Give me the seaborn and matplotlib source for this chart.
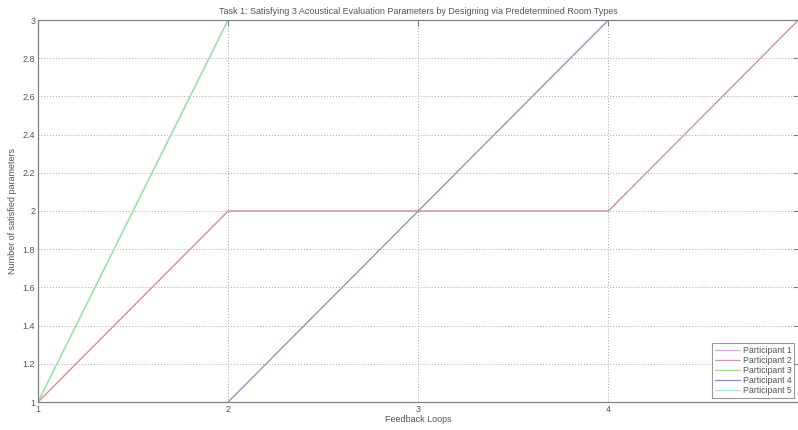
import numpy as np
import matplotlib
matplotlib.use("Agg")
import matplotlib.pyplot as plt
import seaborn as sns
import pandas as pd

loops = [1, 2, 3, 4, 5]
participants = ["Participant 1", "Participant 2", "Participant 3", "Participant 4", "Participant 5"]
p1 = [1, 2, 2, 2, 3]
p2 = [1, 2, 2, 2, 3]
p3 = [1, 3, np.nan, np.nan, np.nan]
p4 = [np.nan, 1, 2, 3, np.nan]
p5 = [1, 3, np.nan, np.nan, np.nan]
series = [p1, p2, p3, p4, p5]
colors = ["#dcaadc", "#d69a9a", "#96e096", "#8a8abc", "#9ae6e6"]
yticks = [1, 1.2, 1.4, 1.6, 1.8, 2, 2.2, 2.4, 2.6, 2.8, 3]
xticks = [1, 2, 3, 4]

sns.set_theme(style="white")
plt.rcParams['font.family'] = ['Liberation Sans', 'DejaVu Sans']
txt = "#555555"
edge = "#808080"

fig = plt.figure(figsize=(7.98, 4.30), dpi=100)
ax = fig.add_axes([38/798, 1 - 402/430, (798.5 - 38)/798, (402 - 20)/430])

# draw hidden duplicates first so visible order matches
draw_order = [0, 4, 1, 2, 3]
for i in draw_order:
    df = pd.DataFrame({"x": loops, "y": series[i]}).dropna()
    sns.lineplot(data=df, x="x", y="y", ax=ax, color=colors[i], linewidth=0.9,
                 label=participants[i], sort=False, estimator=None)
h, l = ax.get_legend_handles_labels()
hm = dict(zip(l, h))
leg = ax.legend([hm[p] for p in participants], participants, loc="lower right",
                fontsize=6.3, frameon=True, fancybox=False, borderaxespad=0.5,
                handlelength=2.9, handletextpad=0.3, labelspacing=0.12,
                borderpad=0.3, labelcolor=txt)
leg.get_frame().set_edgecolor(edge)
leg.get_frame().set_linewidth(0.8)

ax.set_xlim(1, 5)
ax.set_ylim(1, 3)
ax.set_xticks(xticks)
ax.set_yticks(yticks)
ax.set_xticklabels([f"{v:g}" for v in xticks])
ax.set_yticklabels([f"{v:g}" for v in yticks])
ax.grid(True, linestyle=(0, (1, 2)), color="#a8a8a8", linewidth=0.7)
ax.tick_params(direction="in", length=4, width=0.8, colors=edge, labelcolor=txt,
               labelsize=6.5, pad=2, top=True, right=True)
for s in ax.spines.values():
    s.set_color(edge)
    s.set_linewidth(0.9)
ax.set_xlabel("Feedback Loops", fontsize=6.5, color=txt, labelpad=1)
ax.set_ylabel("Number of satisfied parameters", fontsize=6.5, color=txt, labelpad=4)
ax.set_title("Task 1: Satisfying 3 Acoustical Evaluation Parameters by Designing via Predetermined Room Types",
             fontsize=6.5, color=txt, pad=4)

fig.savefig("out.png", dpi=100)
